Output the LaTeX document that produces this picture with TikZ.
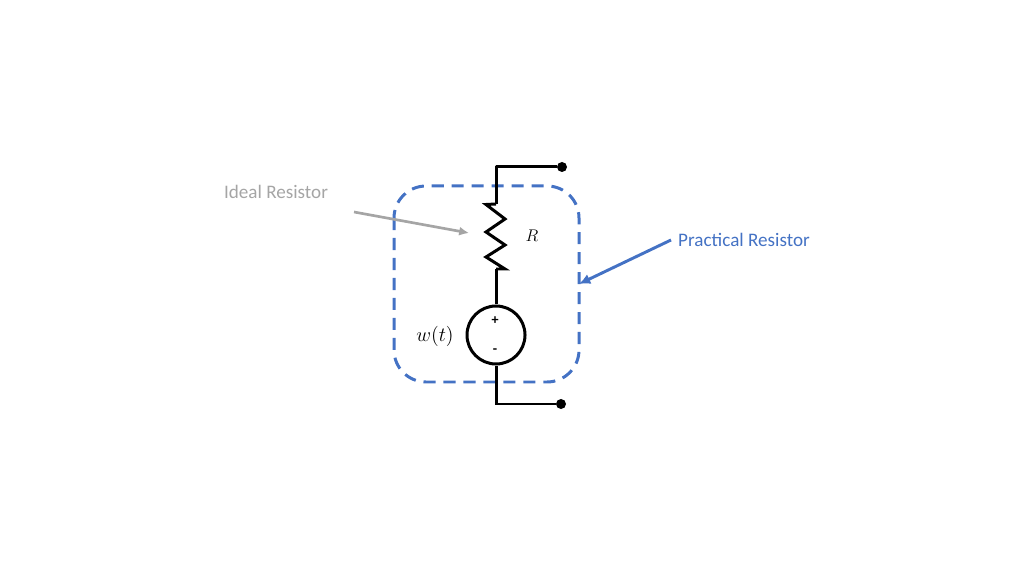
\documentclass[tikz,border=0pt]{standalone}
\usepackage{fontspec}
\setmainfont{Carlito}
\usepackage{tikz}
\usetikzlibrary{calc,arrows.meta}
\definecolor{boxblue}{HTML}{4472C4}
\definecolor{notegray}{HTML}{A5A5A5}
\tikzset{
  wire/.style={line width=2.13pt,black},
  terminal/.style={circle,fill=black,inner sep=0pt,minimum size=0.25cm},
  source/.style={circle,draw=black,line width=2.13pt,fill=white,inner sep=0pt,minimum size=1.45cm},
  note/.style={inner sep=0pt,font=\fontsize{13.6}{16}\selectfont},
  mathlabel/.style={inner sep=0pt,font=\fontsize{14.5}{17}\selectfont},
}
\begin{document}
\begin{tikzpicture}[x=0.025cm,y=-0.025cm]
\useasboundingbox (0,0) rectangle (1024,576);
\draw[boxblue,line width=2.13pt,dash pattern=on 8.6pt off 5.6pt,rounded corners=0.8cm] (394,186) rectangle (579,382);
\node[terminal] (topend) at (562,167) {};
\node[terminal] (botend) at (561,404) {};
\node[source] (w) at (496,335) {};
\coordinate (restop) at (496,204);
\coordinate (resbot) at (496,269);
\draw[wire,line join=round] (topend) -| (restop);
\draw[wire,line join=miter] (restop)--(486,204.5)--(505,219)--(486,232)--(505,245)--(486,257)--(505,269)--(resbot);
\draw[wire] (resbot)--(w);
\draw[wire] (w)|-(botend);
\node[mathlabel,font=\fontsize{12.5}{15}\selectfont] (rlabel) at (532,236) {$R$};
\node[mathlabel] (wlabel) at (435,336) {$w(t)$};
\node[inner sep=0pt,font=\normalsize\bfseries] (plus) at (495,321) {+};
\node[inner sep=0pt,font=\normalsize\bfseries] (minus) at (495,351.5) {-};
\node[note,text=notegray] (ideal) at (276,192) {Ideal Resistor};
\node[note,text=boxblue] (practical) at (744,240) {Practical Resistor};
\coordinate (idealtail) at (354,212);
\coordinate (idealhead) at (469,233);
\coordinate (practail) at (671,240);
\coordinate (prachead) at (579,284);
\draw[-{Latex[length=7pt,width=6.5pt]},notegray,line width=1.9pt] (idealtail)--(idealhead);
\draw[-{Latex[length=8pt,width=7.5pt]},boxblue,line width=2.1pt] (practail)--(prachead);
\end{tikzpicture}
\end{document}
